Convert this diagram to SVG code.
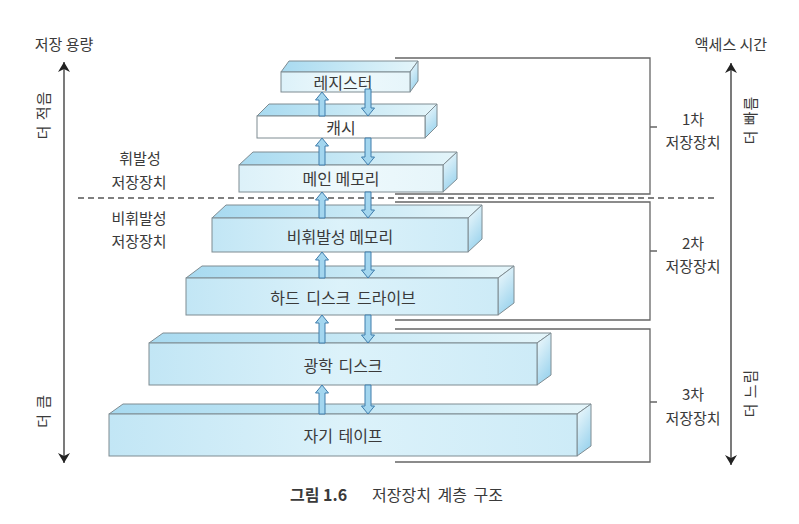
<svg xmlns="http://www.w3.org/2000/svg" width="799" height="524" viewBox="0 0 799 524">
<defs>
<linearGradient id="gFront" x1="0" y1="0" x2="1" y2="0">
<stop offset="0" stop-color="#c2e6f5"/><stop offset="0.5" stop-color="#dcf2fa"/><stop offset="1" stop-color="#cdebf7"/>
</linearGradient>
<linearGradient id="gFrontPale" x1="0" y1="0" x2="1" y2="0">
<stop offset="0" stop-color="#dcf1f9"/><stop offset="0.5" stop-color="#eef9fc"/><stop offset="1" stop-color="#e6f5fa"/>
</linearGradient>
<linearGradient id="gTop" x1="0" y1="0" x2="1" y2="0">
<stop offset="0" stop-color="#a8daf0"/><stop offset="0.6" stop-color="#cdebf6"/><stop offset="1" stop-color="#e4f5fa"/>
</linearGradient>
<linearGradient id="gSide" x1="0" y1="0" x2="0.4" y2="1">
<stop offset="0" stop-color="#f4fbfd"/><stop offset="1" stop-color="#9fd5ee"/>
</linearGradient>
<marker id="ah" viewBox="0 0 10 14" refX="10" refY="7" markerWidth="10" markerHeight="14" markerUnits="userSpaceOnUse" orient="auto-start-reverse">
<path d="M0,1 L10,7 L0,13 L3,7 Z" fill="#222"/>
</marker>
</defs>
<style>
text{font-family:"Noto Sans CJK KR","Noto Sans",sans-serif;fill:#3a3a3a;font-size:15px;}
.lbl{text-anchor:middle;dominant-baseline:central;}
.box{font-size:16px;}
.front{fill:url(#gFront);stroke:#7f8c92;stroke-width:1;}
.pale{fill:url(#gFrontPale);}
.white{fill:#ffffff;}
.top{fill:url(#gTop);stroke:#7f8c92;stroke-width:1;stroke-linejoin:round;}
.side{fill:url(#gSide);stroke:#7f8c92;stroke-width:1;stroke-linejoin:round;}
.arr{fill:#a3d6ef;stroke:#3f7cab;stroke-width:1;}
.brk{fill:none;stroke:#666;stroke-width:1.3;}
.axis{stroke:#333;stroke-width:1.3;fill:none;marker-start:url(#ah);marker-end:url(#ah);}
.dash{stroke:#555;stroke-width:1.3;stroke-dasharray:6 4;}
.cap{font-size:16px;dominant-baseline:central;}
</style>
<rect width="799" height="524" fill="#ffffff"/>

<g id="axis-left">
<line class="axis" x1="64" y1="62" x2="64" y2="463"/>
<text class="lbl" x="64" y="43">저장 용량</text>
<text class="lbl" transform="translate(42,115) rotate(-90)" letter-spacing="1">더 적음</text>
<text class="lbl" transform="translate(42,411) rotate(-90)" letter-spacing="1">더 큼</text>
</g>
<g id="axis-right">
<line class="axis" x1="731" y1="63" x2="731" y2="465"/>
<text class="lbl" x="731" y="43">액세스 시간</text>
<text class="lbl" transform="translate(749,120) rotate(-90)" letter-spacing="1">더 빠름</text>
<text class="lbl" transform="translate(749,393) rotate(-90)" letter-spacing="1">더 느림</text>
</g>

<g id="volatile-label">
<text class="lbl" x="140" y="157">휘발성</text>
<text class="lbl" x="139" y="181">저장장치</text>
</g>
<g id="nonvolatile-label">
<text class="lbl" x="139" y="217">비휘발성</text>
<text class="lbl" x="139" y="240">저장장치</text>
</g>

<g id="divider">
<line class="dash" x1="78" y1="198" x2="718" y2="198"/>
</g>

<g id="tier-1">
<path class="brk" d="M395,58 H650 V194 H395 M650,127 H657"/>
<text class="lbl" x="693" y="118">1차</text>
<text class="lbl" x="693" y="141">저장장치</text>
</g>
<g id="tier-2">
<path class="brk" d="M395,202 H650 V320 H395 M650,251 H657"/>
<text class="lbl" x="693" y="242">2차</text>
<text class="lbl" x="693" y="265">저장장치</text>
</g>
<g id="tier-3">
<path class="brk" d="M395,329 H650 V462 H395 M650,402 H657"/>
<text class="lbl" x="693" y="393">3차</text>
<text class="lbl" x="693" y="417">저장장치</text>
</g>

<g id="register">
<polygon class="top" points="281,72 289,61 418,61 410,72"/>
<polygon class="side" points="410,72 418,61 418,81 410,92"/>
<rect class="front pale" x="281" y="72" width="129" height="20"/>
<text class="lbl box" x="343" y="82">레지스터</text>
</g>
<g id="cache">
<polygon class="top" points="257,116 269,104 437,104 425,116"/>
<polygon class="side" points="425,116 437,104 437,126 425,138"/>
<rect class="front white" x="257" y="116" width="168" height="22"/>
<text class="lbl box" x="341" y="127">캐시</text>
</g>
<g id="main-memory">
<polygon class="top" points="239,165 253,152 457,152 443,165"/>
<polygon class="side" points="443,165 457,152 457,179 443,192"/>
<rect class="front pale" x="239" y="165" width="204" height="27"/>
<text class="lbl box" x="341" y="178">메인 메모리</text>
</g>
<g id="nonvolatile-memory">
<polygon class="top" points="212,218 226,205 482,205 468,218"/>
<polygon class="side" points="468,218 482,205 482,239 468,252"/>
<rect class="front" x="212" y="218" width="256" height="34"/>
<text class="lbl box" x="340" y="236">비휘발성 메모리</text>
</g>
<g id="hdd">
<polygon class="top" points="186,278 202,266 514,266 498,278"/>
<polygon class="side" points="498,278 514,266 514,303 498,315"/>
<rect class="front" x="186" y="278" width="312" height="37"/>
<text class="lbl box" x="343" y="297" word-spacing="3">하드 디스크 드라이브</text>
</g>
<g id="optical-disk">
<polygon class="top" points="149,343 163,333 551,333 537,343"/>
<polygon class="side" points="537,343 551,333 551,375 537,385"/>
<rect class="front" x="149" y="343" width="388" height="42"/>
<text class="lbl box" x="343" y="365" word-spacing="2">광학 디스크</text>
</g>
<g id="magnetic-tape">
<polygon class="top" points="109,414 123,404 591,404 577,414"/>
<polygon class="side" points="577,414 591,404 591,446 577,456"/>
<rect class="front" x="109" y="414" width="468" height="42"/>
<text class="lbl box" x="343" y="435" word-spacing="2">자기 테이프</text>
</g>

<g id="connectors">
<path class="arr" d="M319,116 V100 H315.5 L322,92 L328.5,100 H325 V116 Z"/>
<path class="arr" d="M365,89 V108 H361.5 L368,116 L374.5,108 H371 V89 Z"/>
<path class="arr" d="M319,165 V146 H315.5 L322,138 L328.5,146 H325 V165 Z"/>
<path class="arr" d="M365,138 V157 H361.5 L368,165 L374.5,157 H371 V138 Z"/>
<path class="arr" d="M319,218 V200 H315.5 L322,192 L328.5,200 H325 V218 Z"/>
<path class="arr" d="M365,192 V210 H361.5 L368,218 L374.5,210 H371 V192 Z"/>
<path class="arr" d="M319,278 V260 H315.5 L322,252 L328.5,260 H325 V278 Z"/>
<path class="arr" d="M365,252 V270 H361.5 L368,278 L374.5,270 H371 V252 Z"/>
<path class="arr" d="M319,343 V323 H315.5 L322,315 L328.5,323 H325 V343 Z"/>
<path class="arr" d="M365,315 V335 H361.5 L368,343 L374.5,335 H371 V315 Z"/>
<path class="arr" d="M319,414 V393 H315.5 L322,385 L328.5,393 H325 V414 Z"/>
<path class="arr" d="M365,385 V406 H361.5 L368,414 L374.5,406 H371 V385 Z"/>
</g>

<g id="caption">
<text class="cap" x="290" y="494" font-weight="bold" fill="#222">그림 1.6</text>
<text class="cap" x="372" y="494" word-spacing="3">저장장치 계층 구조</text>
</g>
</svg>
